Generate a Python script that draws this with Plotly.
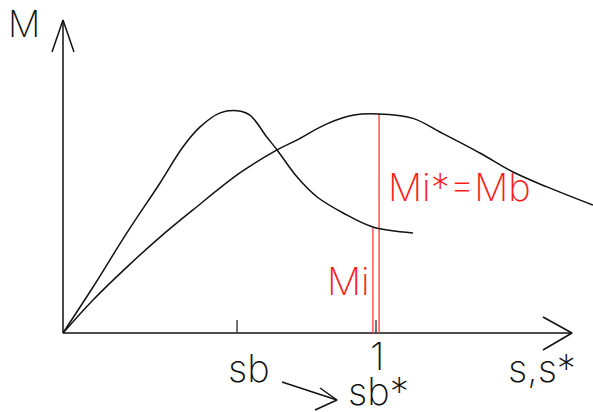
import plotly.graph_objects as go

# Moment curves M(s): short-span curve peaking at sb, and the scaled curve M(s*)
s1 = [0, 0.096, 0.204, 0.310, 0.383, 0.438, 0.502, 0.556, 0.597, 0.651, 0.684, 0.748, 0.812, 0.895, 0.990, 1.118]
m1 = [0, 0.210, 0.457, 0.685, 0.849, 0.941, 1.005, 1.015, 0.995, 0.895, 0.836, 0.712, 0.621, 0.548, 0.484, 0.457]

s2 = [0, 0.096, 0.204, 0.310, 0.415, 0.565, 0.684, 0.747, 0.843, 0.930, 1.006, 1.118, 1.204, 1.332, 1.438, 1.546, 1.693]
m2 = [0, 0.151, 0.301, 0.438, 0.562, 0.731, 0.836, 0.881, 0.955, 0.995, 1.000, 0.980, 0.918, 0.822, 0.735, 0.667, 0.584]

sb = 0.556          # position of the peak of the first curve
s_unit = 1.0        # tick "1"
s_mi, mi = 0.990, 0.479    # Mi ordinate
s_mb, mb = 1.010, 1.000    # Mi* = Mb ordinate

# window (data units) and pixel helpers for placing labels
W, H = 593, 412
X0, Y0 = 63, 333      # origin in pixels
SX, SY = 313, 219     # pixels per unit
xr = [-X0 / SX, (W - X0) / SX]
yr = [-(H - Y0) / SY, Y0 / SY]


def px(x):
    return (x - X0) / SX


def py(y):
    return (Y0 - y) / SY


BLACK = "#111111"
RED_LINE = "rgba(255,80,80,0.85)"
RED = "#ff1a1a"
FONT = dict(family="Inter", size=38, weight=200)

fig = go.Figure()


def seg(xs, ys, color=BLACK, width=1.5):
    fig.add_trace(go.Scatter(x=xs, y=ys, mode="lines", hoverinfo="skip",
                             line=dict(color=color, width=width)))


# axes with open arrowheads
seg([0, 0], [0, py(20)])
seg([px(52), px(63), px(74)], [py(52), py(20), py(52)])
seg([0, px(572)], [0, 0])
seg([px(543), px(572), px(543)], [py(317), py(333), py(350)])

# ticks at sb and 1
seg([sb, sb], [0, py(320)], color="#444444", width=1.5)
seg([s_unit, s_unit], [0, py(320)], color="#444444", width=1.5)

# red ordinates Mi and Mi*=Mb
seg([s_mi, s_mi], [0, mi], color=RED_LINE, width=1.8)
seg([s_mb, s_mb], [0, mb], color=RED_LINE, width=1.8)

# the two curves
fig.add_trace(go.Scatter(x=s1, y=m1, mode="lines", hoverinfo="skip",
                         line=dict(color=BLACK, width=1.5, shape="spline", smoothing=1.0)))
fig.add_trace(go.Scatter(x=s2, y=m2, mode="lines", hoverinfo="skip",
                         line=dict(color=BLACK, width=1.5, shape="spline", smoothing=1.0)))

# arrow sb -> sb*
seg([px(282), px(337)], [py(382), py(400)])
seg([px(320), px(337), px(315)], [py(388), py(400), py(410)])


def label(text, x, y, color=BLACK, anchor="center", size=38):
    font = dict(FONT, size=size, color=color)
    fig.add_annotation(x=px(x), y=py(y), text=text, showarrow=False,
                       xanchor=anchor, yanchor="middle", font=font)


label("M", 24, 24, size=36)
label("sb", 249, 368)
label("1", 377, 356)
label("sb*", 346, 391, anchor="left")
label("s,s*", 506, 368, anchor="left")
label("Mi*=Mb", 386, 187, color=RED, anchor="left")
label("Mi", 325, 281, color=RED, anchor="left")

fig.update_layout(
    width=W, height=H,
    margin=dict(l=0, r=0, t=0, b=0),
    paper_bgcolor="white", plot_bgcolor="white",
    showlegend=False,
    xaxis=dict(range=xr, visible=False, fixedrange=True),
    yaxis=dict(range=yr, visible=False, fixedrange=True),
)

fig.write_html("out.html")
